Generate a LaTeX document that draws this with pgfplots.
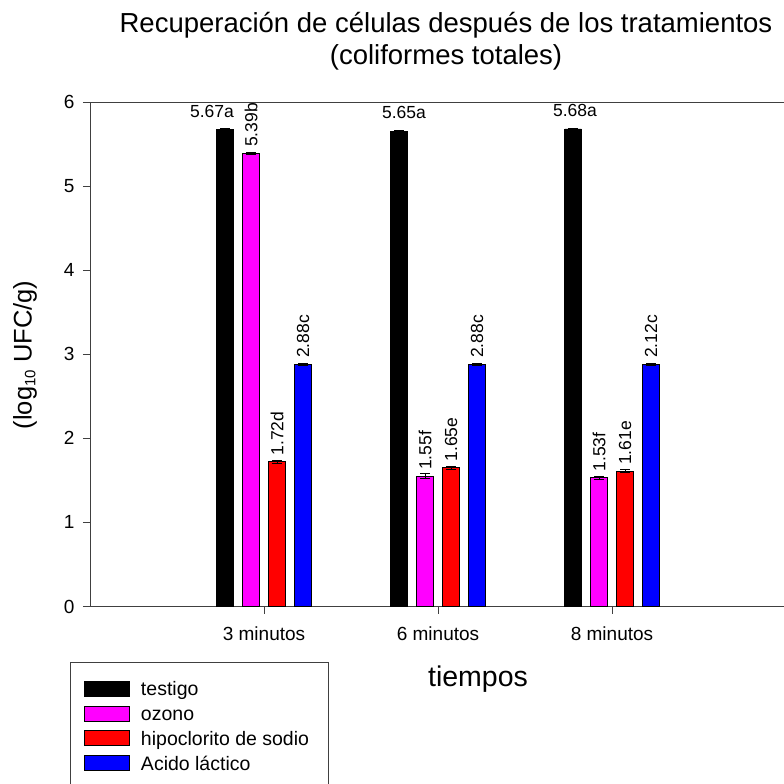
\documentclass[border=0pt]{standalone}
\usepackage{pgfplots}
\pgfplotsset{compat=1.18}
\usepackage{pgfplotstable}
\usepackage{fontspec}
\setmainfont{Liberation Sans}
\definecolor{cmag}{RGB}{255,0,255}
\definecolor{cred}{RGB}{255,0,0}
\definecolor{cblue}{RGB}{0,0,255}
\definecolor{axgray}{RGB}{64,64,64}

\pgfplotstableread{
x y err label off
1 5.67 0.010 5.67a -13
2 5.65 0.010 5.65a 5
3 5.68 0.010 5.68a 2
}\testigo
\pgfplotstableread{
x y err label
1 5.39 0.015 5.39b
2 1.55 0.030 1.55f
3 1.53 0.015 1.53f
}\ozono
\pgfplotstableread{
x y err label
1 1.72 0.015 1.72d
2 1.65 0.015 1.65e
3 1.61 0.015 1.61e
}\hipo
\pgfplotstableread{
x y err label
1 2.88 0.015 2.88c
2 2.88 0.015 2.88c
3 2.88 0.015 2.12c
}\acido

\begin{document}
\begin{tikzpicture}
\useasboundingbox (0,0) rectangle (784pt,-784pt);
\begin{axis}[
  at={(90pt,-606.5pt)}, anchor=south west,
  scale only axis, width=696pt, height=504.5pt,
  xmin=0, xmax=4, ymin=0, ymax=6,
  ybar, bar width=16.5pt,
  xtick={1,2,3}, xticklabels={3 minutos,6 minutos,8 minutos},
  ytick={0,1,2,3,4,5,6},
  xtick pos=bottom, ytick pos=left,
  tick align=outside, major tick length=7pt,
  axis line style={axgray, line width=1pt},
  every tick/.style={axgray, line width=1pt},
  ticklabel style={font=\fontsize{19}{22}\selectfont},
  xticklabel style={yshift=-10pt},
  yticklabel style={xshift=-5pt},
  /pgf/number format/assume math mode=true,
  point meta=explicit symbolic,
  nodes near coords={\pgfplotspointmeta},
  every node near coord/.append style={font=\fontsize{17.5}{20}\selectfont, rotate=90, anchor=west, inner sep=0pt, xshift=6pt},
  error bars/y dir=both, error bars/y explicit,
  error bars/error bar style={black, line width=1pt},
  error bars/error mark options={rotate=90, mark size=5pt, line width=1pt, black},
  legend style={draw=none, fill=none, inner sep=0pt, anchor=north west,
    at={(axis description cs:-0.00862,-0.14668)},
    font=\fontsize{19.5}{22}\selectfont,
    row sep=5.9pt, column sep=11pt,
    nodes={inner sep=0pt, text height=14pt, text depth=4pt}},
  legend cell align=left,
  legend image code/.code={\draw[#1, line width=0.8pt] (0pt,-5.5pt) rectangle (45pt,9.5pt);},
]
\addplot[fill=black, draw=black, line width=0.8pt, bar shift=-39pt,
  visualization depends on={\thisrow{off} \as \labeloff},
  every node near coord/.append style={rotate=-90, anchor=south, xshift=\labeloff pt, yshift=6pt}]
  table[x=x, y=y, y error=err, meta=label] {\testigo};
\addplot[fill=cmag, draw=black, line width=0.8pt, bar shift=-13pt]
  table[x=x, y=y, y error=err, meta=label] {\ozono};
\addplot[fill=cred, draw=black, line width=0.8pt, bar shift=13pt]
  table[x=x, y=y, y error=err, meta=label] {\hipo};
\addplot[fill=cblue, draw=black, line width=0.8pt, bar shift=39pt]
  table[x=x, y=y, y error=err, meta=label] {\acido};
\legend{testigo, ozono, hipoclorito de sodio, Acido láctico}
\end{axis}
\node[anchor=base, font=\fontsize{27.5}{29}\selectfont] at (446pt,-33pt) {Recuperación de células después de los tratamientos};
\node[anchor=base, font=\fontsize{27.5}{29}\selectfont] at (446pt,-64pt) {(coliformes totales)};
\node[rotate=90, font=\fontsize{25.5}{28}\selectfont] at (25pt,-355pt) {(log{\fontsize{15}{17}\selectfont\raisebox{-0.25em}{10}} UFC/g)};
\node[font=\fontsize{28.5}{31}\selectfont] at (478pt,-679pt) {tiempos};
\draw[axgray, line width=1pt] (70pt,-662pt) rectangle (328pt,-790pt);
\end{tikzpicture}
\end{document}
